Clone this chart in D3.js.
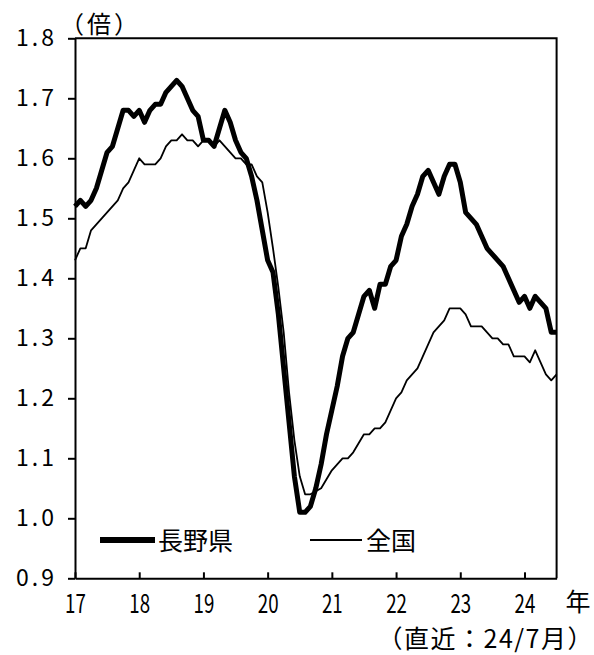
<!DOCTYPE html>
<html lang="ja">
<head>
<meta charset="utf-8">
<title>有効求人倍率の推移（長野県・全国）</title>
<script src="https://cdn.jsdelivr.net/npm/d3@7"></script>
<style>
  html, body { margin: 0; padding: 0; background: #fff; }
  svg { display: block; font-family: "Noto Sans CJK JP", sans-serif; }
</style>
</head>
<body>
<div id="chart"></div>
<script>
// 有効求人倍率（季節調整値）、2017年1月〜2024年7月の月次
const yearLabels = ['17', '18', '19', '20', '21', '22', '23', '24'];
const yTicks = [0.9, 1.0, 1.1, 1.2, 1.3, 1.4, 1.5, 1.6, 1.7, 1.8];
const seriesNames = ['長野県', '全国'];

const nagano = [
  1.52, 1.53, 1.52, 1.53, 1.55, 1.58, 1.61, 1.62, 1.65, 1.68, 1.68, 1.67, // 2017
  1.68, 1.66, 1.68, 1.69, 1.69, 1.71, 1.72, 1.73, 1.72, 1.70, 1.68, 1.67, // 2018
  1.63, 1.63, 1.62, 1.65, 1.68, 1.66, 1.63, 1.61, 1.60, 1.57, 1.53, 1.48, // 2019
  1.43, 1.41, 1.34, 1.25, 1.16, 1.07, 1.01, 1.01, 1.02, 1.05, 1.09, 1.14, // 2020
  1.18, 1.22, 1.27, 1.30, 1.31, 1.34, 1.37, 1.38, 1.35, 1.39, 1.39, 1.42, // 2021
  1.43, 1.47, 1.49, 1.52, 1.54, 1.57, 1.58, 1.56, 1.54, 1.57, 1.59, 1.59, // 2022
  1.56, 1.51, 1.50, 1.49, 1.47, 1.45, 1.44, 1.43, 1.42, 1.40, 1.38, 1.36, // 2023
  1.37, 1.35, 1.37, 1.36, 1.35, 1.31, 1.31                                // 2024
];

const zenkoku = [
  1.43, 1.45, 1.45, 1.48, 1.49, 1.50, 1.51, 1.52, 1.53, 1.55, 1.56, 1.58,
  1.60, 1.59, 1.59, 1.59, 1.60, 1.62, 1.63, 1.63, 1.64, 1.63, 1.63, 1.62,
  1.63, 1.63, 1.62, 1.63, 1.62, 1.61, 1.60, 1.60, 1.59, 1.59, 1.57, 1.56,
  1.51, 1.45, 1.385, 1.31, 1.21, 1.13, 1.07, 1.04, 1.04, 1.045, 1.05, 1.065,
  1.08, 1.09, 1.10, 1.10, 1.11, 1.125, 1.14, 1.14, 1.15, 1.15, 1.16, 1.18,
  1.20, 1.21, 1.23, 1.24, 1.25, 1.27, 1.29, 1.31, 1.32, 1.33, 1.35, 1.35,
  1.35, 1.34, 1.32, 1.32, 1.32, 1.31, 1.30, 1.30, 1.29, 1.29, 1.27, 1.27,
  1.27, 1.26, 1.28, 1.26, 1.24, 1.23, 1.24
];

(function () {
  'use strict';

  const width = 594, height = 655;
  const left = 75, right = 556.6, top = 38.3, bottom = 578.3;

  const svg = d3.select('#chart')
    .append('svg')
    .attr('width', width)
    .attr('height', height);

  const x = d3.scaleLinear().domain([0, nagano.length - 1]).range([left, right]);
  const y = d3.scaleLinear().domain([0.9, 1.8]).range([bottom, top]);

  // frame (top + right)
  svg.append('path')
    .attr('d', 'M' + left + ',' + top + 'H' + right + 'V' + bottom)
    .attr('fill', 'none')
    .attr('stroke', '#000')
    .attr('stroke-width', 2);

  // y axis
  const yAxis = svg.append('g')
    .attr('transform', 'translate(' + left + ',0)')
    .call(d3.axisLeft(y)
      .tickValues(yTicks)
      .tickFormat(d3.format('.1f'))
      .tickSize(7)
      .tickSizeOuter(0)
      .tickPadding(11));
  yAxis.select('.domain').attr('stroke-width', 2);
  yAxis.selectAll('.tick line').attr('stroke-width', 2);
  yAxis.selectAll('.tick text')
    .attr('font-size', 23)
    .attr('fill', '#000')
    .style('letter-spacing', '3px')
    .attr('font-family', '"Noto Sans CJK JP", sans-serif');

  // x axis (ticks point inward, one per January)
  const xAxis = svg.append('g')
    .attr('transform', 'translate(0,' + bottom + ')')
    .call(d3.axisBottom(x)
      .tickValues(yearLabels.map(function (d, i) { return i * 12; }))
      .tickFormat(function (d) { return yearLabels[d / 12]; })
      .tickSize(-6)
      .tickSizeOuter(0)
      .tickPadding(16));
  xAxis.select('.domain').attr('stroke-width', 2);
  xAxis.selectAll('.tick line').attr('stroke-width', 2);
  xAxis.selectAll('.tick text')
    .attr('font-size', 26)
    .attr('fill', '#000')
    .attr('font-family', '"Noto Sans CJK JP", sans-serif')
    .attr('transform', 'scale(0.72,1)');

  // lines
  const line = d3.line()
    .x(function (d, i) { return x(i); })
    .y(function (d) { return y(d); });

  svg.append('path')
    .datum(zenkoku)
    .attr('d', line)
    .attr('fill', 'none')
    .attr('stroke', '#000')
    .attr('stroke-width', 1.8)
    .attr('stroke-linejoin', 'round');

  svg.append('path')
    .datum(nagano)
    .attr('d', line)
    .attr('fill', 'none')
    .attr('stroke', '#000')
    .attr('stroke-width', 5)
    .attr('stroke-linejoin', 'round');

  // legend
  const legend = svg.append('g');
  const legendItems = [
    { name: seriesNames[0], x1: 100, x2: 155, w: 6, tx: 158 },
    { name: seriesNames[1], x1: 310, x2: 362, w: 2, tx: 366 }
  ];
  legendItems.forEach(function (d) {
    legend.append('line')
      .attr('x1', d.x1).attr('x2', d.x2)
      .attr('y1', 540).attr('y2', 540)
      .attr('stroke', '#000')
      .attr('stroke-width', d.w);
    legend.append('text')
      .attr('x', d.tx)
      .attr('y', 550)
      .attr('font-size', 25)
      .text(d.name);
  });

  // unit + captions
  svg.append('text')
    .attr('x', 100.5).attr('y', 33)
    .attr('text-anchor', 'middle')
    .attr('font-size', 24)
    .style('letter-spacing', '3px')
    .text('（倍）');

  svg.append('text')
    .attr('x', 578).attr('y', 611)
    .attr('text-anchor', 'middle')
    .attr('font-size', 25)
    .text('年');

  svg.append('text')
    .attr('x', 594).attr('y', 648)
    .attr('text-anchor', 'end')
    .attr('font-size', 25)
    .style('letter-spacing', '1.5px')
    .text('（直近：24/7月）');
})();
</script>
</body>
</html>
